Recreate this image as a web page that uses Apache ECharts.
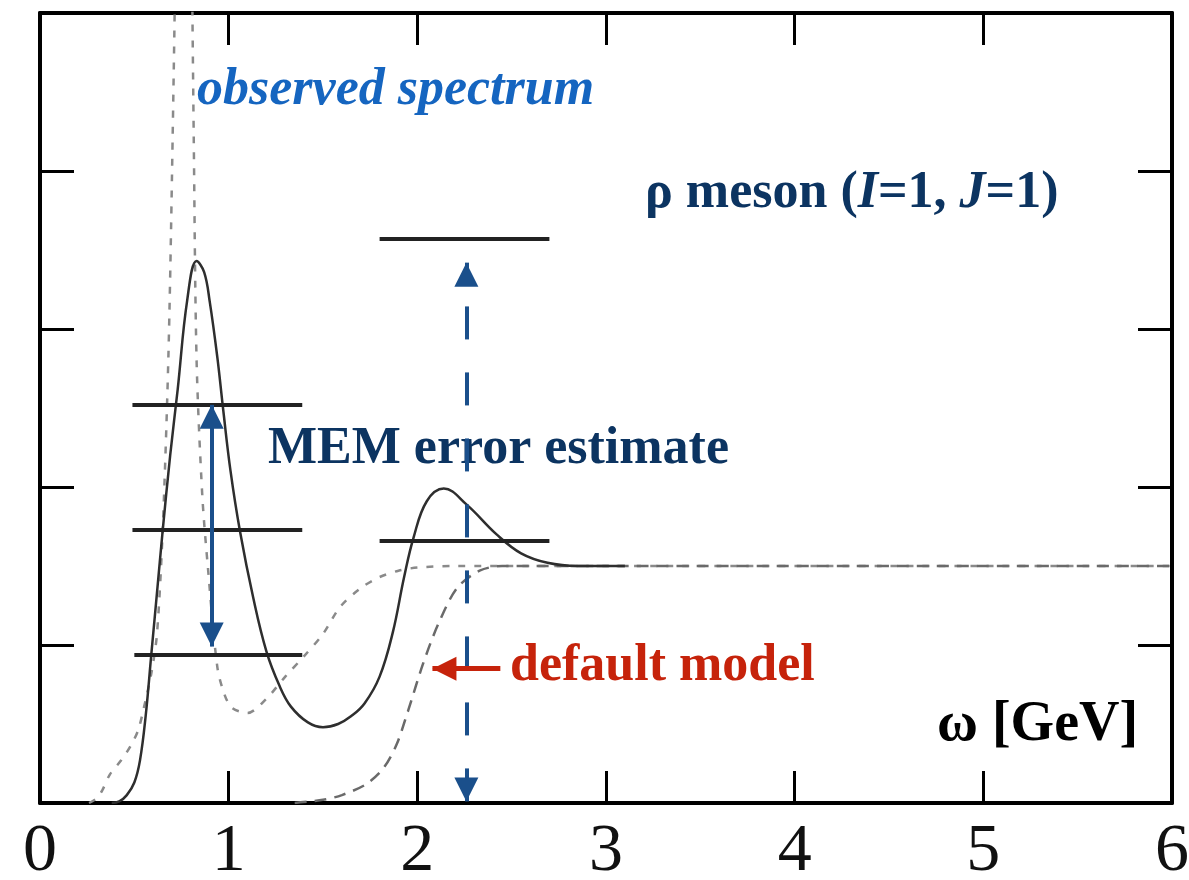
<!DOCTYPE html>
<html>
<head>
<meta charset="utf-8">
<script src="https://cdn.jsdelivr.net/npm/echarts@6/dist/echarts.min.js"></script>
<style>html,body{margin:0;padding:0;background:#fff;}#c{width:1189px;height:880px;}</style>
</head>
<body>
<div id="c"></div>
<script>
// ---- data (omega in GeV, spectral function in arbitrary units) ----
const xTicks = [0, 1, 2, 3, 4, 5, 6];
const memResult = [[0.38,0],[0.42,0.01],[0.46,0.05],[0.50,0.13],[0.53,0.27],[0.56,0.55],[0.59,0.94],[0.62,1.33],[0.65,1.72],[0.69,2.2],[0.73,2.62],[0.78,3.18],[0.83,3.43],[0.87,3.36],[0.90,3.17],[0.94,2.82],[0.97,2.5],[1.01,2.1],[1.06,1.72],[1.13,1.3],[1.20,0.96],[1.27,0.74],[1.33,0.61],[1.42,0.51],[1.50,0.48],[1.58,0.5],[1.65,0.55],[1.72,0.63],[1.80,0.8],[1.87,1.08],[1.93,1.43],[1.98,1.68],[2.05,1.91],[2.14,1.99],[2.26,1.89],[2.42,1.70],[2.55,1.58],[2.69,1.52],[2.85,1.50],[3.1,1.5]];
const observed = [[0.26,0],[0.30,0.03],[0.33,0.08],[0.37,0.18],[0.43,0.27],[0.48,0.36],[0.52,0.46],[0.55,0.6],[0.59,0.82],[0.62,1.07],[0.65,1.72],[0.68,2.8],[0.70,4.0],[0.72,5.6],[0.74,9],[0.76,14],[0.78,9],[0.80,6],[0.815,4.2],[0.83,2.8],[0.86,1.95],[0.89,1.49],[0.94,0.86],[0.98,0.68],[1.02,0.6],[1.1,0.57],[1.2,0.66],[1.3,0.8],[1.4,0.93],[1.5,1.07],[1.59,1.24],[1.7,1.36],[1.8,1.43],[1.9,1.47],[2.0,1.49],[2.2,1.5],[6,1.5]];
const defaultModel = [[1.35,0],[1.5,0.02],[1.6,0.05],[1.73,0.12],[1.82,0.22],[1.89,0.37],[1.95,0.58],[2.03,0.88],[2.11,1.13],[2.21,1.36],[2.33,1.47],[2.45,1.5],[6,1.5]];
// error bars: [omegaFrom, omegaTo, level]
const errorBars = [[0.49,1.39,2.52],[0.49,1.39,1.73],[0.50,1.39,0.94],[1.80,2.70,3.57],[1.80,2.70,1.66]];
// arrows: [omega, fromLevel, toLevel]
const memArrow = [0.91, 0.99, 2.52];
const dashedArrow = [2.26, 0.01, 3.42];
// red arrow: [fromOmega, toOmega, level]
const modelArrow = [2.44, 2.08, 0.85];

const chart = echarts.init(document.getElementById('c'), null, {renderer: 'canvas'});
const serif = '"Liberation Serif", "Times New Roman", serif';
const blue = '#1a4f8b';

const markData = [];
errorBars.forEach(b => {
  markData.push([
    {coord: [b[0], b[2]], symbol: 'none', lineStyle: {color: '#222', width: 4, type: 'solid'}},
    {coord: [b[1], b[2]], symbol: 'none'}
  ]);
});
markData.push([
  {coord: [memArrow[0], memArrow[1]], symbol: 'triangle', lineStyle: {color: blue, width: 4, type: 'solid'}, itemStyle: {color: blue}},
  {coord: [memArrow[0], memArrow[2]], symbol: 'triangle'}
]);
markData.push([
  {coord: [dashedArrow[0], dashedArrow[1]], symbol: 'triangle', lineStyle: {color: blue, width: 4, type: [33, 33]}, itemStyle: {color: blue}},
  {coord: [dashedArrow[0], dashedArrow[2]], symbol: 'triangle'}
]);
markData.push([
  {coord: [modelArrow[0], modelArrow[2]], symbol: 'none', lineStyle: {color: '#c6230b', width: 5, type: 'solid'}, itemStyle: {color: '#c6230b'}},
  {coord: [modelArrow[1], modelArrow[2]], symbol: 'triangle'}
]);

const axisLine = {show: true, onZero: false, lineStyle: {color: '#000', width: 4}};
const option = {
  animation: false,
  backgroundColor: '#fff',
  grid: {left: 40, right: 17, top: 13, bottom: 77, containLabel: false, outerBoundsMode: 'none'},
  xAxis: [
    {type: 'value', min: 0, max: 6, interval: 1, position: 'bottom',
     axisLine: axisLine, splitLine: {show: false},
     axisTick: {show: true, inside: true, length: 32, lineStyle: {color: '#000', width: 3}},
     axisLabel: {show: true, margin: 15, fontFamily: serif, fontSize: 68, color: '#111',
       formatter: v => xTicks.indexOf(v) >= 0 ? String(v) : ''}},
    {type: 'value', min: 0, max: 6, interval: 1, position: 'top',
     axisLine: axisLine, splitLine: {show: false},
     axisTick: {show: true, inside: true, length: 32, lineStyle: {color: '#000', width: 3}},
     axisLabel: {show: false}}
  ],
  yAxis: [
    {type: 'value', min: 0, max: 5, interval: 1, position: 'left',
     axisLine: axisLine, splitLine: {show: false},
     axisTick: {show: true, inside: true, length: 34, lineStyle: {color: '#000', width: 3}},
     axisLabel: {show: false}},
    {type: 'value', min: 0, max: 5, interval: 1, position: 'right',
     axisLine: axisLine, splitLine: {show: false},
     axisTick: {show: true, inside: true, length: 34, lineStyle: {color: '#000', width: 3}},
     axisLabel: {show: false}}
  ],
  series: [
    {name: 'observed spectrum', type: 'line', data: observed, showSymbol: false, smooth: 0.3,
     lineStyle: {color: '#8a8a8a', width: 2.5, type: [7, 9]}, clip: true, z: 3},
    {name: 'default model', type: 'line', data: defaultModel, showSymbol: false, smooth: 0.3,
     lineStyle: {color: '#6a6a6a', width: 2.5, type: [12, 8]}, clip: true, z: 3},
    {name: 'MEM', type: 'line', data: memResult, showSymbol: false, smooth: 0.4,
     lineStyle: {color: '#2e2e2e', width: 2.5}, clip: true, z: 4,
     markLine: {silent: true, animation: false, symbolSize: [24, 24], symbolOffset: [[0, '50%'], [0, '50%']],
       label: {show: false}, emphasis: {disabled: true}, data: markData}}
  ],
  graphic: [
    {type: 'text', x: 197, y: 91, style: {text: 'observed spectrum', font: 'italic bold 52px ' + serif, fill: '#1565c0', verticalAlign: 'middle'}},
    {type: 'text', x: 645, y: 194, style: {text: 'ρ meson ({i|I}=1, {i|J}=1)', font: 'bold 52px ' + serif, fill: '#0c3461', verticalAlign: 'middle',
      rich: {i: {fontStyle: 'italic', fontWeight: 'bold', fontFamily: serif, fontSize: 52, fill: '#0c3461'}}}},
    {type: 'text', x: 268, y: 450, style: {text: 'MEM error estimate', font: 'bold 52px ' + serif, fill: '#0c3461', verticalAlign: 'middle'}},
    {type: 'text', x: 510, y: 667, style: {text: 'default model', font: 'bold 52px ' + serif, fill: '#c6230b', verticalAlign: 'middle'}},
    {type: 'text', x: 937, y: 726, style: {text: 'ω [GeV]', font: 'bold 56px ' + serif, fill: '#000', verticalAlign: 'middle'}}
  ]
};
chart.setOption(option);
</script>
</body>
</html>
